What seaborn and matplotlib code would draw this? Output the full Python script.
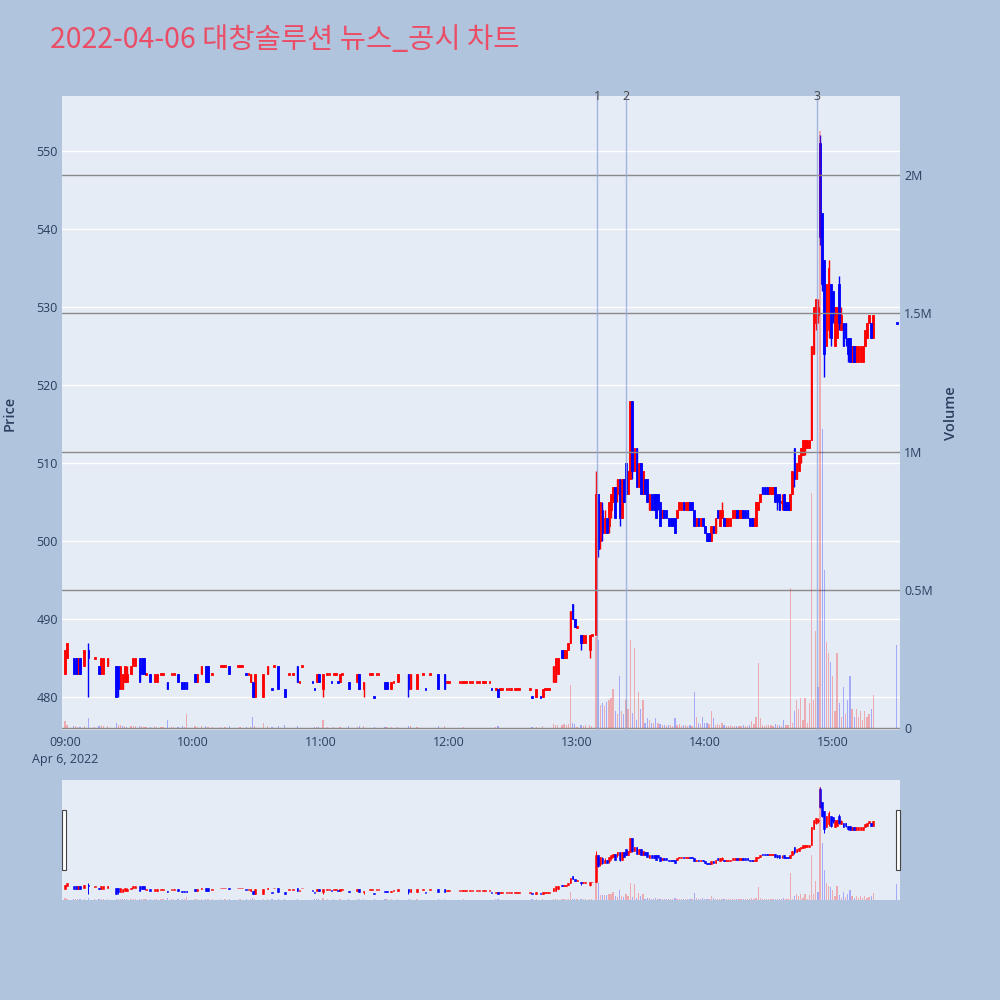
import matplotlib
matplotlib.use("Agg")
import matplotlib.pyplot as plt
import matplotlib.transforms as mtransforms
from matplotlib.patches import Rectangle
import numpy as np
import pandas as pd
import seaborn as sns

# one-minute candles, x = minutes after 09:00
minutes = [
    0, 1, 4, 5, 6, 7, 9, 11, 14, 16,
    17, 18, 20, 24, 25, 26, 27, 28, 29, 31,
    32, 33, 35, 36, 37, 38, 40, 42, 43, 45,
    46, 48, 50, 51, 53, 55, 56, 57, 61, 62,
    64, 66, 67, 69, 73, 74, 75, 77, 81, 82,
    83, 85, 86, 87, 88, 89, 93, 95, 97, 98,
    100, 103, 105, 107, 109, 110, 111, 116, 117, 118,
    119, 121, 123, 124, 125, 126, 127, 128, 129, 130,
    133, 137, 138, 140, 143, 144, 145, 146, 147, 150,
    151, 153, 154, 156, 161, 162, 165, 168, 169, 171,
    175, 178, 179, 180, 185, 186, 187, 188, 190, 191,
    193, 194, 196, 197, 199, 200, 202, 203, 204, 205,
    207, 208, 209, 211, 212, 213, 218, 219, 221, 223,
    224, 225, 226, 227, 229, 230, 231, 233, 234, 235,
    236, 237, 238, 239, 240, 242, 243, 244, 246, 247,
    249, 250, 251, 252, 253, 254, 255, 256, 257, 258,
    259, 260, 261, 262, 263, 264, 265, 266, 267, 268,
    269, 270, 271, 272, 273, 274, 275, 276, 277, 278,
    279, 280, 281, 282, 283, 284, 285, 286, 287, 288,
    289, 290, 291, 292, 293, 294, 295, 296, 297, 298,
    299, 300, 301, 302, 303, 304, 305, 306, 307, 308,
    309, 310, 311, 312, 313, 314, 315, 316, 317, 318,
    319, 320, 321, 322, 323, 324, 325, 326, 327, 328,
    329, 330, 331, 332, 333, 334, 335, 336, 337, 338,
    339, 340, 341, 342, 343, 344, 345, 346, 347, 348,
    349, 350, 351, 352, 353, 354, 355, 356, 357, 358,
    359, 360, 361, 362, 363, 364, 365, 366, 367, 368,
    369, 370, 371, 372, 373, 374, 375, 376, 377, 378, 379, 390,
]
opens = [
    483, 485, 485, 485, 483, 485, 484, 486, 485, 484,
    483, 483, 484, 484, 484, 481, 481, 482, 482, 483,
    484, 484, 485, 485, 485, 483, 483, 482, 482, 483,
    483, 482, 483, 483, 483, 482, 482, 482, 483, 482,
    483, 484, 484, 483, 484, 484, 484, 484, 484, 484,
    484, 483, 483, 482, 482, 480, 480, 483, 481, 484,
    484, 481, 483, 483, 484, 482, 484, 482, 481, 482,
    483, 481, 483, 483, 482, 483, 483, 482, 482, 483,
    482, 482, 483, 481, 483, 483, 480, 483, 483, 482,
    482, 481, 482, 482, 483, 481, 481, 483, 481, 483,
    483, 483, 482, 482, 482, 482, 482, 482, 482, 482,
    482, 482, 482, 482, 482, 481, 481, 481, 481, 481,
    481, 481, 481, 481, 481, 481, 481, 480, 480, 480,
    480, 481, 481, 481, 482, 482, 483, 486, 485, 485,
    486, 487, 492, 490, 489, 488, 487, 487, 486, 488,
    488, 506, 500, 504, 501, 503, 502, 504, 505, 507,
    506, 508, 503, 508, 510, 506, 508, 518, 509, 512,
    507, 510, 506, 508, 508, 504, 506, 506, 506, 506,
    505, 503, 504, 504, 503, 503, 503, 503, 503, 504,
    504, 505, 504, 504, 505, 505, 504, 502, 503, 502,
    503, 502, 501, 501, 500, 502, 501, 504, 502, 503,
    503, 502, 502, 502, 503, 503, 504, 503, 503, 504,
    504, 504, 503, 503, 502, 502, 504, 505, 507, 507,
    507, 506, 506, 506, 507, 506, 506, 505, 506, 505,
    505, 504, 506, 512, 508, 509, 511, 511, 512, 512,
    512, 513, 524, 528, 529, 551, 542, 536, 525, 527,
    533, 532, 525, 526, 533, 527, 528, 528, 526, 526,
    523, 525, 523, 523, 523, 523, 525, 526, 528, 528, 526, 528,
]
highs = [
    486, 487, 485, 485, 485, 485, 486, 487, 485, 484,
    485, 485, 485, 484, 484, 484, 483, 484, 484, 484,
    485, 485, 485, 485, 485, 483, 483, 483, 483, 483,
    483, 482, 483, 483, 483, 482, 482, 482, 483, 483,
    484, 484, 484, 483, 484, 484, 484, 484, 484, 484,
    484, 483, 483, 483, 482, 483, 483, 484, 481, 484,
    484, 481, 483, 483, 484, 482, 484, 482, 481, 483,
    483, 483, 483, 483, 482, 483, 483, 482, 483, 483,
    482, 483, 483, 482, 483, 483, 480, 483, 483, 482,
    482, 482, 482, 483, 483, 483, 483, 483, 481, 483,
    483, 483, 482, 482, 482, 482, 482, 482, 482, 482,
    482, 482, 482, 482, 482, 481, 481, 481, 481, 481,
    481, 481, 481, 481, 481, 481, 481, 480, 481, 480,
    481, 481, 481, 481, 484, 485, 485, 486, 486, 486,
    487, 491, 492, 490, 489, 488, 488, 488, 488, 488,
    509, 506, 505, 505, 504, 503, 505, 506, 507, 507,
    508, 508, 508, 508, 510, 509, 518, 518, 512, 512,
    510, 510, 509, 508, 508, 506, 506, 506, 506, 506,
    505, 504, 504, 504, 503, 503, 503, 503, 504, 505,
    505, 505, 505, 505, 505, 505, 504, 503, 503, 503,
    503, 502, 501, 501, 502, 502, 503, 504, 504, 505,
    503, 503, 503, 503, 504, 504, 504, 504, 504, 504,
    504, 504, 503, 503, 503, 505, 505, 506, 507, 507,
    507, 507, 507, 507, 507, 506, 506, 506, 506, 505,
    505, 506, 509, 512, 510, 511, 512, 513, 513, 513,
    513, 525, 530, 531, 531, 552, 542, 536, 533, 536,
    533, 532, 530, 530, 534, 530, 528, 528, 526, 526,
    525, 525, 525, 525, 525, 525, 527, 528, 529, 528, 529, 528,
]
lows = [
    483, 485, 483, 483, 483, 483, 484, 480, 485, 483,
    483, 483, 484, 480, 480, 481, 481, 482, 482, 483,
    484, 484, 482, 483, 483, 483, 482, 482, 482, 483,
    483, 481, 483, 483, 482, 481, 481, 481, 482, 482,
    483, 482, 482, 483, 484, 484, 484, 483, 484, 484,
    484, 483, 483, 482, 480, 480, 480, 483, 481, 484,
    481, 480, 483, 483, 482, 482, 484, 482, 481, 482,
    482, 480, 483, 483, 482, 483, 483, 482, 482, 483,
    481, 482, 481, 480, 483, 483, 480, 483, 483, 481,
    481, 481, 482, 482, 480, 481, 481, 483, 481, 483,
    481, 481, 482, 482, 482, 482, 482, 482, 482, 482,
    482, 482, 482, 482, 482, 481, 481, 480, 481, 481,
    481, 481, 481, 481, 481, 481, 481, 480, 480, 480,
    480, 481, 481, 481, 482, 482, 483, 485, 485, 485,
    486, 487, 490, 489, 489, 486, 487, 487, 485, 488,
    488, 498, 499, 500, 501, 501, 501, 503, 505, 503,
    505, 502, 503, 505, 506, 506, 508, 508, 509, 507,
    507, 506, 506, 506, 505, 504, 504, 504, 503, 504,
    502, 503, 503, 503, 502, 502, 502, 501, 503, 504,
    504, 504, 504, 504, 504, 504, 502, 502, 502, 502,
    502, 501, 500, 500, 500, 501, 501, 503, 502, 503,
    502, 502, 502, 502, 503, 503, 503, 503, 503, 503,
    503, 503, 502, 502, 502, 502, 504, 505, 506, 506,
    506, 506, 506, 506, 505, 504, 504, 504, 504, 504,
    504, 504, 506, 507, 508, 509, 510, 511, 511, 512,
    512, 513, 524, 527, 528, 538, 532, 521, 525, 526,
    525, 528, 525, 526, 527, 527, 525, 525, 523, 523,
    523, 523, 523, 523, 523, 523, 525, 526, 528, 526, 526, 528,
]
closes = [
    486, 487, 483, 483, 485, 483, 486, 485, 485, 483,
    485, 485, 485, 480, 481, 484, 483, 484, 483, 484,
    485, 485, 482, 483, 483, 483, 482, 483, 483, 483,
    483, 481, 483, 483, 482, 481, 481, 481, 482, 483,
    484, 482, 482, 483, 484, 484, 484, 483, 484, 484,
    484, 483, 483, 483, 480, 483, 483, 484, 481, 484,
    481, 480, 483, 483, 482, 482, 484, 482, 481, 483,
    482, 483, 483, 483, 482, 483, 483, 482, 483, 483,
    481, 483, 481, 482, 483, 483, 480, 483, 483, 481,
    481, 482, 482, 483, 481, 483, 483, 483, 481, 483,
    481, 481, 482, 482, 482, 482, 482, 482, 482, 482,
    482, 482, 482, 482, 482, 481, 481, 480, 481, 481,
    481, 481, 481, 481, 481, 481, 481, 480, 481, 480,
    481, 481, 481, 481, 484, 485, 485, 485, 486, 486,
    487, 491, 490, 489, 489, 487, 488, 488, 488, 488,
    506, 499, 505, 501, 503, 501, 505, 506, 507, 503,
    508, 503, 508, 505, 506, 509, 518, 509, 512, 507,
    510, 506, 509, 506, 505, 506, 504, 504, 503, 505,
    502, 504, 503, 503, 502, 502, 502, 501, 504, 505,
    505, 504, 505, 505, 504, 504, 502, 503, 502, 503,
    502, 501, 500, 500, 502, 501, 503, 503, 504, 504,
    502, 503, 503, 503, 504, 504, 503, 504, 504, 503,
    503, 503, 502, 502, 503, 505, 505, 506, 506, 506,
    506, 507, 507, 507, 505, 505, 504, 505, 504, 504,
    504, 506, 509, 508, 510, 511, 512, 513, 513, 513,
    513, 525, 530, 531, 530, 539, 533, 524, 533, 535,
    526, 529, 530, 530, 528, 529, 525, 526, 524, 523,
    525, 523, 525, 525, 525, 525, 527, 528, 529, 526, 529, 528,
]
volumes_k = [
    25, 12, 8, 6, 5, 5, 8, 38, 5, 6,
    10, 9, 7, 20, 12, 10, 8, 6, 5, 6,
    8, 7, 9, 6, 4, 3, 5, 6, 5, 3,
    3, 30, 4, 3, 5, 6, 4, 50, 6, 5,
    6, 8, 5, 3, 3, 2, 3, 6, 2, 3,
    2, 3, 2, 5, 40, 8, 20, 6, 3, 2,
    8, 10, 2, 2, 6, 2, 2, 2, 3, 5,
    4, 30, 3, 2, 2, 3, 2, 2, 5, 2,
    6, 5, 6, 8, 2, 2, 3, 2, 2, 5,
    4, 4, 2, 5, 8, 6, 5, 2, 2, 2,
    6, 8, 2, 2, 2, 2, 3, 2, 2, 2,
    2, 2, 2, 2, 2, 2, 3, 8, 2, 2,
    2, 2, 2, 2, 2, 2, 2, 3, 5, 2,
    6, 2, 2, 2, 15, 12, 10, 12, 14, 10,
    15, 155, 20, 15, 5, 12, 8, 10, 12, 6,
    330, 320, 83, 90, 80, 95, 100, 110, 140, 60,
    50, 190, 60, 50, 100, 70, 320, 55, 290, 30,
    130, 70, 100, 20, 35, 30, 20, 20, 35, 20,
    15, 10, 10, 8, 10, 10, 8, 35, 10, 15,
    8, 10, 12, 8, 10, 8, 130, 40, 20, 15,
    40, 20, 20, 15, 60, 35, 10, 15, 10, 20,
    10, 8, 8, 10, 8, 8, 6, 8, 6, 10,
    8, 6, 10, 25, 15, 40, 236, 35, 10, 8,
    10, 12, 10, 8, 15, 10, 12, 8, 30, 10,
    10, 506, 20, 60, 100, 70, 110, 30, 110, 20,
    90, 850, 100, 350, 150, 2160, 1080, 570, 310, 270,
    240, 190, 60, 270, 90, 40, 150, 50, 100, 190,
    70, 40, 70, 40, 60, 30, 60, 40, 50, 70, 120, 300,
]

event_minutes = [249.5, 263, 352.5]
event_labels = ["1", "2", "3"]

hour_ticks = [0, 60, 120, 180, 240, 300, 360]
hour_labels = ["09:00\nApr 6, 2022", "10:00", "11:00", "12:00", "13:00", "14:00", "15:00"]
price_ticks = [480, 490, 500, 510, 520, 530, 540, 550]
vol_ticks = [0, 500000, 1000000, 1500000, 2000000]
vol_labels = ["0", "0.5M", "1M", "1.5M", "2M"]

RED = "#ff0000"
BLUE = "#0000ff"
PAPER = "#b0c4de"
PLOT_BG = "#e5ecf6"
TEXT = "#2a3f5f"

sns.set_style("darkgrid", {"axes.facecolor": PLOT_BG, "grid.color": "white"})
plt.rcParams["font.family"] = ["Open Sans", "Noto Sans CJK KR", "DejaVu Sans"]

df = pd.DataFrame({
    "minute": minutes, "open": opens, "high": highs,
    "low": lows, "close": closes, "volume": np.array(volumes_k) * 1000,
})
prev_close = df["close"].shift(1).fillna(df["open"])
up = np.where(df["close"] > df["open"], True,
              np.where(df["close"] < df["open"], False, df["close"] >= prev_close))
df["candle"] = np.where(up, "up", "down")
df["vol_dir"] = np.where(df["close"] >= prev_close, "up", "down")

XLIM = (-1.4, 391.5)
PLIM = (475.8, 557.05)
VLIM = (-7000, 2286000)


def draw_candles(ax, data, wick_lw, body_w, edge_lw, min_body):
    for side, color in (("up", RED), ("down", BLUE)):
        d = data[data["candle"] == side]
        ax.vlines(d["minute"], d["low"], d["high"], color=color, lw=wick_lw, zorder=3)
        span = (d["close"] - d["open"]).abs()
        body = span.clip(lower=min_body)
        bottom = np.minimum(d["open"], d["close"]) - (body - span) / 2
        ax.bar(d["minute"], body, bottom=bottom, width=body_w, color=color,
               edgecolor=color, linewidth=edge_lw, zorder=3)


def draw_volume(ax, data, alpha):
    sns.barplot(data=data, x="minute", y="volume", hue="vol_dir",
                hue_order=["up", "down"], palette={"up": RED, "down": BLUE},
                native_scale=True, dodge=False, width=0.6, saturation=1,
                alpha=alpha, linewidth=0, errorbar=None, legend=False, ax=ax)


fig = plt.figure(figsize=(10, 10), dpi=100, facecolor=PAPER)

# main chart
ax = fig.add_axes([0.062, 0.270, 0.838, 0.634])
ax.set_facecolor(PLOT_BG)
draw_candles(ax, df, 1.0, 0.8, 0.6, 0.26)
ax.set_xlim(*XLIM)
ax.set_ylim(*PLIM)
ax.set_yticks(price_ticks)
ax.set_xticks(hour_ticks)
ax.set_xticklabels(hour_labels)
ax.grid(axis="x", visible=False)
ax.grid(axis="y", color="white", lw=1)
ax.tick_params(axis="both", length=0, labelsize=9, labelcolor=TEXT)
ax.tick_params(axis="y", pad=3)
ax.tick_params(axis="x", pad=4)
for lbl in ax.get_xticklabels():
    lbl.set_linespacing(1.45)
for s in ax.spines.values():
    s.set_visible(False)

ax2 = ax.twinx()
draw_volume(ax2, df, 0.28)
ax2.set_xlim(*XLIM)
ax2.set_ylim(*VLIM)
ax2.set_yticks(vol_ticks)
ax2.set_yticklabels(vol_labels)
ax2.set_ylabel("")
ax2.set_xlabel("")
ax2.grid(axis="x", visible=False)
ax2.grid(axis="y", color="#8a8a8a", lw=1)
ax2.set_axisbelow(True)
ax2.tick_params(axis="y", length=0, labelsize=9, labelcolor=TEXT, pad=3)
for s in ax2.spines.values():
    s.set_visible(False)

trans = mtransforms.blended_transform_factory(ax2.transData, ax2.transAxes)
for m, lab in zip(event_minutes, event_labels):
    ax2.axvline(m, color="#93a8dc", lw=1, alpha=0.8, zorder=1)
    ax2.text(m, 1.0, lab, transform=trans, ha="center", va="center",
             fontsize=9, color="#444444")

# range slider
axm = fig.add_axes([0.062, 0.100, 0.838, 0.120])
axm.set_facecolor(PLOT_BG)
draw_candles(axm, df, 0.7, 0.8, 0.4, 0.5)
axm.set_xlim(*XLIM)
axm.set_ylim(*PLIM)
axm.set_xticks([])
axm.set_yticks([])
axm.grid(False)
for s in axm.spines.values():
    s.set_visible(False)
axm2 = axm.twinx()
draw_volume(axm2, df, 0.28)
axm2.set_xlim(*XLIM)
axm2.set_ylim(*VLIM)
axm2.set_yticks([])
axm2.set_ylabel("")
axm2.grid(False)
for s in axm2.spines.values():
    s.set_visible(False)

for hx in (0.062, 0.896):
    fig.patches.append(Rectangle((hx, 0.130), 0.004, 0.060, transform=fig.transFigure,
                                 facecolor="white", edgecolor="#444444", lw=0.8))

fig.text(0.050, 0.960, "2022-04-06 대창솔루션 뉴스_공시 차트", fontsize=20.5,
         color="#ea4e66", ha="left", va="center",
         family=["Noto Sans CJK KR", "DejaVu Sans"])
fig.text(0.010, 0.587, "Price", rotation=90, ha="center", va="center",
         fontsize=10.5, color=TEXT, fontweight="semibold")
fig.text(0.951, 0.587, "Volume", rotation=90, ha="center", va="center",
         fontsize=10.5, color=TEXT, fontweight="semibold")

fig.savefig("out.png", dpi=100, facecolor=PAPER)
